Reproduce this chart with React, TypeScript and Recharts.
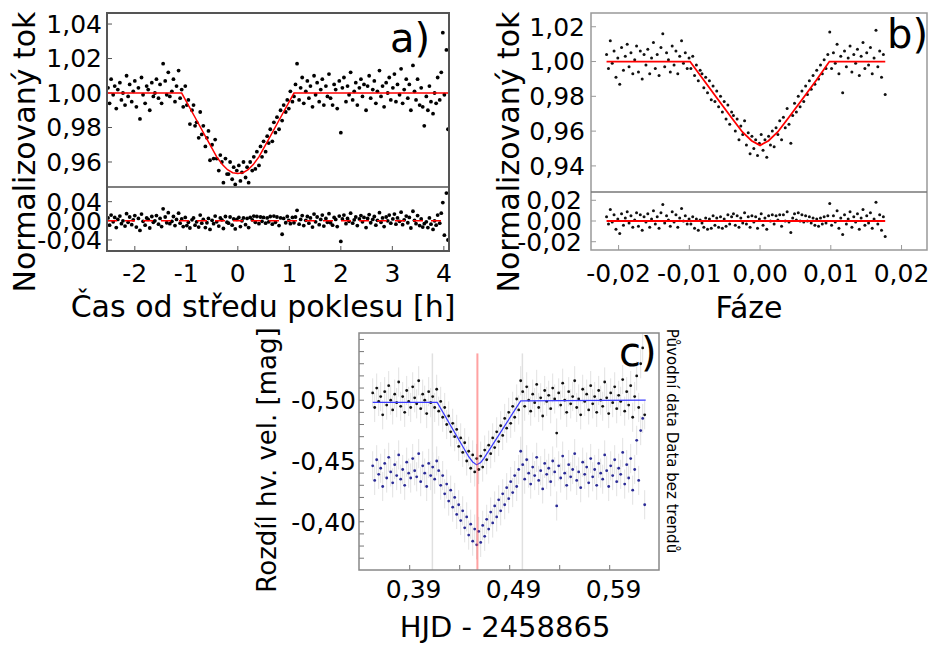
import { ErrorBar, Scatter, ScatterChart, XAxis, YAxis } from 'recharts'

// a) hours from mid-eclipse, normalised flux, residuals
const aHours = [
  -2.52, -2.49, -2.46, -2.42, -2.39, -2.36, -2.33, -2.29, -2.26, -2.23,
  -2.19, -2.16, -2.13, -2.1, -2.06, -2.03, -2.0, -1.97, -1.93, -1.9,
  -1.87, -1.84, -1.8, -1.77, -1.74, -1.71, -1.67, -1.64, -1.61, -1.58,
  -1.54, -1.51, -1.48, -1.45, -1.41, -1.38, -1.35, -1.32, -1.28, -1.25,
  -1.22, -1.19, -1.15, -1.12,
  -1.09, -1.06, -1.02, -0.99, -0.96, -0.93, -0.89, -0.86, -0.83, -0.8,
  -0.76, -0.73, -0.7, -0.67, -0.63, -0.6, -0.57, -0.54, -0.5, -0.47,
  -0.44, -0.41, -0.37, -0.34, -0.31, -0.28, -0.24, -0.21, -0.18, -0.15,
  -0.11, -0.08, -0.05, -0.02, 0.02, 0.05, 0.08, 0.11, 0.15, 0.18,
  0.21, 0.24, 0.28, 0.31, 0.34, 0.37, 0.41, 0.44, 0.47, 0.5,
  0.54, 0.57, 0.6, 0.63, 0.67, 0.7, 0.73, 0.76, 0.8, 0.83,
  0.86, 0.89, 0.93, 0.96, 0.99, 1.02, 1.06,
  1.09, 1.12, 1.15, 1.19, 1.22, 1.25, 1.28, 1.32, 1.35, 1.38,
  1.41, 1.45, 1.48, 1.51, 1.54, 1.58, 1.61, 1.64, 1.67, 1.71,
  1.74, 1.77, 1.8, 1.84, 1.87, 1.9, 1.93, 1.97, 2.0, 2.03,
  2.06, 2.1, 2.13, 2.16, 2.19, 2.23, 2.26, 2.29, 2.32, 2.36,
  2.39, 2.42, 2.45, 2.49, 2.52, 2.55, 2.58, 2.62, 2.65, 2.68,
  2.71, 2.75, 2.78, 2.81, 2.84, 2.88, 2.91, 2.94, 2.97, 3.01,
  3.04, 3.07, 3.1, 3.14, 3.17, 3.2, 3.23, 3.27, 3.3, 3.33,
  3.36, 3.4, 3.43, 3.46, 3.49, 3.53, 3.56, 3.59, 3.62, 3.66,
  3.69, 3.72, 3.75, 3.79, 3.82, 3.85, 3.88, 3.92, 3.95, 3.98,
  4.01, 4.05, 4.08,
]
const aFlux = [
  1.003, 0.994, 1.008, 0.999, 1.004, 0.991, 1.002, 1.006, 0.996, 1.0,
  0.993, 1.01, 0.998, 1.005, 0.995, 1.001, 1.007, 0.992, 1.003, 0.985,
  1.009, 0.999, 0.994, 1.004, 1.002, 0.99, 1.006, 0.998, 1.0, 1.008,
  0.997, 1.005, 0.994, 1.017, 1.007, 0.999, 1.012, 0.998, 1.001, 1.008,
  0.995, 1.004, 1.013, 0.997,
  1.002, 0.992, 1.004, 0.993, 0.996, 0.982, 0.99, 0.993, 0.981, 0.983,
  0.974, 0.989, 0.976, 0.981, 0.969, 0.974, 0.978, 0.961, 0.97, 0.962,
  0.973, 0.962, 0.955, 0.964, 0.96, 0.948, 0.962, 0.953, 0.953, 0.96,
  0.95, 0.957, 0.947, 0.955, 0.958, 0.949, 0.954, 0.96, 0.951, 0.957,
  0.948, 0.96, 0.955, 0.963, 0.956, 0.966, 0.958, 0.969, 0.963, 0.972,
  0.966, 0.975, 0.971, 0.979, 0.972, 0.983, 0.977, 0.986, 0.979, 0.99,
  0.984, 0.993, 0.989, 0.996, 0.991, 1.001, 0.995,
  0.998, 1.005, 1.017, 0.996, 1.003, 1.009, 0.994, 1.001, 1.007, 0.997,
  1.004, 0.992, 1.01, 0.999, 1.006, 0.995, 1.002, 1.008, 0.993, 1.004,
  0.998, 1.011, 0.997, 0.993, 1.005, 1.002, 0.991, 1.007, 0.977, 1.003,
  1.009, 0.995, 1.004, 0.999, 1.012, 0.996, 1.001, 1.006, 0.993, 1.003,
  1.008, 0.998, 1.005, 0.99, 1.004, 1.01, 0.997, 1.002, 1.007, 0.994,
  1.001, 1.013, 0.998, 1.004, 0.992, 1.006, 1.0, 1.009, 0.996, 1.003,
  1.011, 0.995, 1.005, 0.999, 1.014, 0.994, 1.002, 1.008, 0.997, 1.005,
  0.99, 1.016, 1.001, 0.996, 1.008, 0.993, 1.003, 0.992, 0.981, 0.998,
  0.99, 1.004, 0.995, 0.988, 1.0, 0.994, 1.009, 0.996, 1.012, 1.035,
  0.999, 1.025, 0.979,
]
const aResid = [
  0.006, -0.009, 0.012, -0.002, 0.007, -0.014, 0.003, 0.01, -0.006, 0,
  -0.011, 0.015, -0.003, 0.008, -0.008, 0.002, 0.011, -0.013, 0.005, -0.02,
  0.014, -0.001, -0.009, 0.006, 0.003, -0.015, 0.009, -0.003, 0, 0.011,
  -0.007, 0.005, -0.012, 0.025, 0.008, -0.004, 0.017, -0.006, -0.001, 0.009,
  -0.01, 0.003, 0.016, -0.005,
  0.004, -0.012, 0.007, -0.01, -0.003, -0.015, 0.002, 0.006, -0.009, -0.002,
  -0.013, 0.012, -0.005, 0.003, -0.014, -0.004, 0.005, -0.018, 0.001, -0.006,
  0.01, -0.002, -0.011, 0.006, 0.002, -0.016, 0.009, -0.003, -0.005, 0.008,
  -0.009, 0.004, -0.017, 0.003, 0.007, -0.012, 0, 0.006, -0.008, 0.005,
  -0.014, 0.007, 0.002, 0.01, -0.003, 0.009, -0.006, 0.008, -0.001, 0.007,
  -0.005, 0.006, -0.002, 0.009, -0.007, 0.01, -0.003, 0.008, -0.01, 0.006,
  -0.028, 0.005, -0.004, 0.009, 0.001, -0.006, 0.007,
  -0.004, 0.008, 0.022, -0.007, 0.003, 0.011, -0.01, 0.001, 0.009, -0.005,
  0.006, -0.013, 0.014, -0.002, 0.008, -0.008, 0.003, 0.012, -0.011, 0.005,
  -0.003, 0.015, -0.004, -0.009, 0.007, 0.003, -0.012, 0.01, -0.043, 0.004,
  0.012, -0.006, 0.005, -0.001, 0.016, -0.005, 0.002, 0.008, -0.01, 0.004,
  0.011, -0.002, 0.007, -0.014, 0.005, 0.013, -0.004, 0.003, 0.009, -0.009,
  0.001, 0.017, -0.003, 0.006, -0.012, 0.008, 0, 0.012, -0.005, 0.004,
  0.014, -0.007, 0.006, -0.001, 0.018, -0.008, 0.002, 0.01, -0.004, 0.007,
  -0.015, 0.02, 0.001, -0.006, 0.011, -0.01, 0.004, -0.013, -0.006, -0.002,
  -0.014, 0.006, -0.007, -0.018, 0, -0.009, 0.012, -0.005, 0.016, 0.038,
  -0.03, 0.058, -0.04,
]
const aModelHours = [-2.54, -1.09, -0.8, -0.6, -0.41, -0.3, -0.2, -0.1, 0, 0.1, 0.2, 0.3, 0.41, 0.6, 0.8, 1.09, 4.1]
const aModelFlux = [1, 1, 0.9842, 0.9733, 0.963, 0.9585, 0.9555, 0.9538, 0.9533, 0.9538, 0.9555, 0.9585, 0.963, 0.9733, 0.9842, 1, 1]

// b) phase-folded
const bPhase = [
  -0.0217, -0.02143, -0.02117, -0.0209, -0.02064, -0.02037, -0.02011, -0.01984, -0.01958, -0.01931,
  -0.01905, -0.01878, -0.01852, -0.01825, -0.01799, -0.01772, -0.01746, -0.01719, -0.01693, -0.01666,
  -0.0164, -0.01613, -0.01587, -0.0156, -0.01534, -0.01507, -0.01481, -0.01454, -0.01428, -0.01401,
  -0.01375, -0.01348, -0.01322, -0.01295, -0.01269, -0.01242, -0.01216, -0.01189, -0.01163, -0.01136,
  -0.0111, -0.01083, -0.01057, -0.0103, -0.01004,
  -0.00978, -0.00952, -0.00926, -0.009, -0.00873, -0.00847, -0.00821, -0.00795, -0.00769, -0.00743,
  -0.00716, -0.0069, -0.00664, -0.00638, -0.00612, -0.00586, -0.00559, -0.00533, -0.00507, -0.00481,
  -0.00455, -0.00429, -0.00402, -0.00376, -0.0035, -0.00324, -0.00298, -0.00272, -0.00245, -0.00219,
  -0.00193, -0.00167, -0.00141, -0.00115, -0.00088, -0.00062, -0.00036, -0.0001, 0.00016, 0.00042,
  0.00069, 0.00095, 0.00121, 0.00147, 0.00173, 0.00199, 0.00226, 0.00252, 0.00278, 0.00304,
  0.0033, 0.00356, 0.00383, 0.00409, 0.00435, 0.00461, 0.00487, 0.00513, 0.0054, 0.00566,
  0.00592, 0.00618, 0.00644, 0.0067, 0.00697, 0.00723, 0.00749, 0.00775, 0.00801, 0.00827,
  0.00854, 0.0088, 0.00906, 0.00932, 0.00958,
  0.00985, 0.01011, 0.01037, 0.01063, 0.01089, 0.01115, 0.01141, 0.01168, 0.01194, 0.0122,
  0.01246, 0.01272, 0.01298, 0.01325, 0.01351, 0.01377, 0.01403, 0.01429, 0.01455, 0.01482,
  0.01508, 0.01534, 0.0156, 0.01586, 0.01612, 0.01639, 0.01665, 0.01691, 0.01717, 0.01743,
  0.01769,
]
const bFlux = [
  1.004, 0.996, 1.012, 0.999, 1.006, 0.991, 1.002, 0.987, 1.008, 0.995,
  1.003, 1.01, 0.997, 1.005, 0.993, 1.001, 1.009, 0.994, 1.006, 0.99,
  1.004, 0.998, 1.007, 0.993, 1.002, 1.011, 0.996, 1.004, 0.992, 1.008,
  1.016, 0.997, 1.005, 1.001, 0.994, 1.009, 0.998, 1.006, 0.993, 1.003,
  1.012, 0.999, 1.005, 0.996, 1.002,
  0.996, 1.003, 0.992, 0.998, 0.989, 0.995, 0.993, 0.985, 0.991, 0.982,
  0.989, 0.978, 0.986, 0.977, 0.983, 0.974, 0.98, 0.971, 0.977, 0.967,
  0.975, 0.964, 0.971, 0.969, 0.96, 0.967, 0.955, 0.963, 0.958, 0.966,
  0.952, 0.959, 0.947, 0.957, 0.95, 0.955, 0.946, 0.953, 0.958, 0.949,
  0.955, 0.945, 0.957, 0.952, 0.96, 0.951, 0.962, 0.958, 0.966, 0.955,
  0.968, 0.962, 0.973, 0.964, 0.953, 0.969, 0.976, 0.971, 0.98, 0.974,
  0.983, 0.977, 0.986, 0.981, 0.989, 0.984, 0.992, 0.987, 0.995, 0.99,
  0.998, 0.993, 1.001, 0.996, 1.004,
  1.017, 0.996, 1.005, 0.999, 1.01, 0.993, 1.003, 0.982, 1.006, 0.997,
  1.002, 1.009, 0.994, 1.004, 0.999, 1.007, 0.992, 1.003, 1.011, 0.996,
  1.005, 0.998, 1.008, 0.993, 1.002, 1.018, 0.997, 1.006, 0.991, 1.004,
  0.981,
]
const bResid = [
  0.004, -0.003, 0.011, -0.001, 0.006, -0.008, 0.002, -0.012, 0.007, -0.004,
  0.003, 0.009, -0.002, 0.005, -0.006, 0.001, 0.008, -0.005, 0.006, -0.009,
  0.004, -0.001, 0.007, -0.006, 0.002, 0.01, -0.003, 0.004, -0.007, 0.008,
  0.016, -0.002, 0.005, 0.001, -0.005, 0.009, -0.001, 0.006, -0.006, 0.003,
  0.012, 0, 0.005, -0.003, 0.002,
  -0.003, 0.004, -0.007, 0.002, -0.009, 0.001, -0.002, -0.006, 0.003, -0.008,
  0.002, -0.007, 0.005, -0.004, 0.003, -0.006, 0.004, -0.007, 0.002, -0.005,
  0.006, -0.003, 0.004, 0.007, -0.004, 0.005, -0.006, 0.003, -0.002, 0.008,
  -0.003, 0.004, -0.006, 0.005, -0.001, 0.004, -0.007, 0.002, 0.007, -0.004,
  0.003, -0.008, 0.005, 0, 0.006, -0.003, 0.005, 0.001, 0.006, -0.005,
  0.006, 0, 0.009, -0.001, -0.011, 0.003, 0.007, 0.001, 0.008, 0,
  0.006, -0.001, 0.005, 0, 0.004, -0.002, 0.003, -0.004, 0.002, -0.005,
  0.003, -0.003, 0.004, -0.002, 0.005,
  0.017, -0.004, 0.005, -0.001, 0.01, -0.007, 0.003, -0.013, 0.006, -0.003,
  0.002, 0.009, -0.006, 0.004, -0.001, 0.007, -0.008, 0.003, 0.011, -0.004,
  0.005, -0.002, 0.008, -0.007, 0.002, 0.018, -0.003, 0.006, -0.009, 0.004,
  -0.015,
]
const bModelPhase = [-0.0217, -0.0099, -0.008, -0.006, -0.004, -0.0025, -0.0012, 0, 0.0012, 0.0025, 0.004, 0.006, 0.008, 0.0098, 0.0177]
const bModelFlux = [1, 1, 0.9895, 0.9785, 0.9675, 0.9595, 0.9545, 0.9518, 0.9545, 0.9595, 0.9675, 0.9785, 0.9895, 1, 1]

// c) HJD - 2458865, raw and detrended magnitude difference
const cTime = [
  0.353, 0.355, 0.357, 0.359, 0.361, 0.363, 0.365, 0.367, 0.369, 0.371,
  0.373, 0.375, 0.377, 0.379, 0.381, 0.383, 0.385, 0.387, 0.389, 0.391,
  0.393, 0.395, 0.397, 0.399, 0.401, 0.403, 0.405, 0.407, 0.409, 0.411,
  0.413, 0.415, 0.417, 0.419, 0.421, 0.423, 0.425, 0.427, 0.429, 0.431,
  0.433, 0.435, 0.437, 0.439, 0.441, 0.443, 0.445, 0.447, 0.449, 0.451,
  0.453, 0.455, 0.457, 0.459, 0.461, 0.463, 0.465, 0.467, 0.469, 0.471,
  0.473, 0.475, 0.477, 0.479, 0.481, 0.483, 0.485, 0.487, 0.489, 0.491,
  0.493, 0.495, 0.497, 0.499, 0.501, 0.503, 0.505, 0.507, 0.509, 0.511,
  0.513, 0.515, 0.517, 0.519, 0.521, 0.523, 0.525, 0.527, 0.529, 0.531,
  0.533, 0.535, 0.537, 0.539, 0.541, 0.543, 0.545, 0.547, 0.549, 0.551,
  0.553, 0.555, 0.557, 0.559, 0.561, 0.563, 0.565, 0.567, 0.569, 0.571,
  0.573, 0.575, 0.577, 0.579, 0.581, 0.583, 0.585, 0.587, 0.589, 0.591,
  0.593, 0.595, 0.597, 0.599, 0.601, 0.603, 0.605, 0.607, 0.609, 0.611,
  0.613, 0.615, 0.617, 0.619, 0.621, 0.623, 0.625,
]
const cRaw = [
  -0.506, -0.494, -0.51, -0.499, -0.503, -0.488, -0.507, -0.496, -0.512, -0.5,
  -0.492, -0.505, -0.498, -0.515, -0.495, -0.503, -0.49, -0.508, -0.499, -0.494,
  -0.511, -0.502, -0.497, -0.516, -0.493, -0.505, -0.5, -0.489, -0.507, -0.498,
  -0.503, -0.494, -0.509,
  -0.491, -0.499, -0.486, -0.494, -0.48, -0.487, -0.474, -0.481, -0.47, -0.476,
  -0.462, -0.469, -0.457, -0.465, -0.45, -0.458, -0.444, -0.455, -0.441, -0.452,
  -0.443, -0.454, -0.445, -0.459, -0.451, -0.463, -0.456, -0.469, -0.461, -0.474,
  -0.466, -0.479, -0.471, -0.485, -0.477, -0.49, -0.481, -0.495, -0.486, -0.501,
  -0.492, -0.516,
  -0.507, -0.495, -0.511, -0.5, -0.491, -0.505, -0.498, -0.513, -0.494, -0.502,
  -0.487, -0.508, -0.499, -0.504, -0.493, -0.51, -0.501, -0.473, -0.506, -0.496,
  -0.514, -0.5, -0.49, -0.507, -0.497, -0.503, -0.516, -0.494, -0.501, -0.488,
  -0.509, -0.499, -0.505, -0.492, -0.512, -0.497, -0.503, -0.49, -0.508, -0.5,
  -0.495, -0.515, -0.502, -0.489, -0.506, -0.498, -0.511, -0.493, -0.504, -0.499,
  -0.517, -0.491, -0.507, -0.496, -0.512, -0.486, -0.503, -0.52, -0.494, -0.53,
  -0.543, -0.488,
]
const cDetrended = [
  -0.446, -0.434, -0.451, -0.439, -0.444, -0.429, -0.448, -0.436, -0.453, -0.441,
  -0.432, -0.447, -0.438, -0.455, -0.435, -0.443, -0.43, -0.449, -0.44, -0.436,
  -0.452, -0.442, -0.437, -0.456, -0.433, -0.446, -0.44, -0.429, -0.448, -0.438,
  -0.445, -0.435, -0.45,
  -0.442, -0.43, -0.438, -0.423, -0.431, -0.417, -0.426, -0.412, -0.42, -0.406,
  -0.414, -0.401, -0.409, -0.395, -0.404, -0.389, -0.398, -0.384, -0.394, -0.381,
  -0.392, -0.383, -0.397, -0.388, -0.402, -0.394, -0.408, -0.399, -0.413, -0.404,
  -0.418, -0.409, -0.423, -0.414, -0.428, -0.419, -0.433, -0.424, -0.438, -0.429,
  -0.443, -0.458,
  -0.447, -0.435, -0.451, -0.44, -0.431, -0.445, -0.438, -0.453, -0.434, -0.442,
  -0.427, -0.448, -0.439, -0.444, -0.433, -0.45, -0.441, -0.413, -0.446, -0.436,
  -0.454, -0.44, -0.43, -0.447, -0.437, -0.443, -0.456, -0.434, -0.441, -0.428,
  -0.449, -0.439, -0.445, -0.432, -0.452, -0.437, -0.443, -0.43, -0.448, -0.44,
  -0.435, -0.455, -0.442, -0.429, -0.446, -0.438, -0.451, -0.433, -0.444, -0.439,
  -0.457, -0.431, -0.447, -0.436, -0.452, -0.426, -0.443, -0.467, -0.434, -0.475,
  -0.485, -0.414,
]
const cErr = 0.012
const cModelTime = [0.353, 0.4175, 0.449, 0.453, 0.457, 0.461, 0.464, 0.501, 0.626]
const cModelMag = [-0.4982, -0.4982, -0.4535, -0.4492, -0.4468, -0.4488, -0.452, -0.4995, -0.5]
const cContacts = [0.4127, 0.5027]
const cMid = 0.4577
const cMarkTop = -0.5385

// ticks
const aHourTicks = [-2, -1, 0, 1, 2, 3, 4]
const aFluxTicks = [0.96, 0.98, 1, 1.02, 1.04]
const aResidTicks = [-0.04, 0, 0.04]
const bPhaseTicks = [-0.02, -0.01, 0, 0.01, 0.02]
const bFluxTicks = [0.94, 0.96, 0.98, 1, 1.02]
const bResidTicks = [-0.02, 0, 0.02]
const cTimeTicks = [0.39, 0.44, 0.49, 0.54, 0.59]
const cTimeLabels = [0.39, 0.49, 0.59]
const cMagTicks = [-0.55, -0.54, -0.53, -0.52, -0.51, -0.5, -0.49, -0.48, -0.47, -0.46, -0.45, -0.44, -0.43, -0.42, -0.41, -0.4, -0.39, -0.38, -0.37]
const cMagLabels = [-0.5, -0.45, -0.4]

const A_X: [number, number] = [-2.54, 4.1]
const B_X: [number, number] = [-0.0239, 0.0236]
const C_X: [number, number] = [0.3393, 0.6393]
const C_Y: [number, number] = [-0.5553, -0.3603]

const comma = (v: number, d: number) => v.toFixed(d).replace('.', ',')
const only = (list: number[], d: number) => (v: number) =>
  list.some((l) => Math.abs(l - v) < 1e-9) ? comma(v, d) : ''

const pts = (xs: number[], ys: number[]) => xs.map((x, i) => ({ x, y: ys[i] }))

const aPoints = pts(aHours, aFlux)
const aResPoints = pts(aHours, aResid)
const aModel = pts(aModelHours, aModelFlux)
const aZero = [
  { x: A_X[0], y: 0 },
  { x: A_X[1], y: 0 },
]
const bPoints = pts(bPhase, bFlux)
const bResPoints = pts(bPhase, bResid)
const bModel = pts(bModelPhase, bModelFlux)
const bZero = [
  { x: bPhase[0], y: 0 },
  { x: bPhase[bPhase.length - 1], y: 0 },
]
const cRawPoints = cTime.map((x, i) => ({ x, y: cRaw[i], err: cErr }))
const cDetPoints = cTime.map((x, i) => ({ x, y: cDetrended[i], err: cErr }))
const cModel = pts(cModelTime, cModelMag)
const vline = (t: number) => [
  { x: t, y: cMarkTop },
  { x: t, y: C_Y[1] },
]

const dot = (r: number, fill: string) => (p: any) => <circle cx={p.cx} cy={p.cy} r={r} fill={fill} />
const noDot = () => <g />

const TICK = { fontSize: 25, fill: '#000' }
const TICK_LINE = { stroke: '#555' }

export default function App() {
  return (
    <div
      style={{
        position: 'absolute',
        left: 0,
        top: 0,
        width: 934,
        height: 646,
        background: '#fff',
        fontFamily: '"DejaVu Sans", sans-serif',
      }}
    >
      {/* a) top */}
      <div style={{ position: 'absolute', left: 0, top: 0 }}>
        <ScatterChart width={460} height={200} margin={{ top: 13, right: 11, bottom: 13, left: 0 }}>
          <XAxis type="number" dataKey="x" domain={A_X} allowDataOverflow hide />
          <YAxis
            type="number"
            dataKey="y"
            domain={[0.9455, 1.0464]}
            allowDataOverflow
            ticks={aFluxTicks}
            interval={0}
            width={107}
            axisLine={false}
            tickSize={-5}
            tickMargin={10}
            tickLine={TICK_LINE}
            tick={TICK}
            tickFormatter={(v: number) => comma(v, 2)}
          />
          <Scatter data={aPoints} shape={dot(1.9, '#000')} isAnimationActive={false} />
          <Scatter data={aModel} shape={noDot} line={{ stroke: '#ff0000', strokeWidth: 1.5 }} isAnimationActive={false} />
        </ScatterChart>
      </div>
      {/* a) residuals */}
      <div style={{ position: 'absolute', left: 0, top: 180 }}>
        <ScatterChart width={460} height={115} margin={{ top: 7, right: 11, bottom: 0, left: 0 }}>
          <XAxis
            type="number"
            dataKey="x"
            domain={A_X}
            allowDataOverflow
            ticks={aHourTicks}
            interval={0}
            height={44}
            axisLine={false}
            tickSize={-5}
            tickMargin={18}
            tickLine={TICK_LINE}
            tick={TICK}
          />
          <YAxis
            type="number"
            dataKey="y"
            domain={[-0.063, 0.0706]}
            allowDataOverflow
            ticks={aResidTicks}
            interval={0}
            width={107}
            axisLine={false}
            tickSize={-5}
            tickMargin={10}
            tickLine={TICK_LINE}
            tick={TICK}
            tickFormatter={(v: number) => comma(v, 2)}
          />
          <Scatter data={aResPoints} shape={dot(1.9, '#000')} isAnimationActive={false} />
          <Scatter
            data={aZero}
            shape={noDot}
            line={{ stroke: '#ff0000', strokeWidth: 1.5, strokeDasharray: '10 8' }}
            isAnimationActive={false}
          />
        </ScatterChart>
      </div>

      {/* b) top */}
      <div style={{ position: 'absolute', left: 470, top: 0 }}>
        <ScatterChart width={464} height={200} margin={{ top: 13, right: 7, bottom: 8, left: 0 }}>
          <XAxis type="number" dataKey="x" domain={B_X} allowDataOverflow hide />
          <YAxis
            type="number"
            dataKey="y"
            domain={[0.925, 1.0279]}
            allowDataOverflow
            ticks={bFluxTicks}
            interval={0}
            width={121}
            axisLine={false}
            tickSize={-5}
            tickMargin={11}
            tickLine={{ stroke: '#999' }}
            tick={TICK}
            tickFormatter={(v: number) => comma(v, 2)}
          />
          <Scatter data={bPoints} shape={dot(1.5, '#111')} isAnimationActive={false} />
          <Scatter data={bModel} shape={noDot} line={{ stroke: '#ff0000', strokeWidth: 1.8 }} isAnimationActive={false} />
        </ScatterChart>
      </div>
      {/* b) residuals */}
      <div style={{ position: 'absolute', left: 470, top: 185 }}>
        <ScatterChart width={464} height={115} margin={{ top: 7, right: 7, bottom: 0, left: 0 }}>
          <XAxis
            type="number"
            dataKey="x"
            domain={B_X}
            allowDataOverflow
            ticks={bPhaseTicks}
            interval={0}
            height={50}
            axisLine={false}
            tickSize={-5}
            tickMargin={19}
            tickLine={{ stroke: '#999' }}
            tick={TICK}
            tickFormatter={(v: number) => comma(v, 2)}
          />
          <YAxis
            type="number"
            dataKey="y"
            domain={[-0.028, 0.028]}
            allowDataOverflow
            ticks={bResidTicks}
            interval={0}
            width={121}
            axisLine={false}
            tickSize={-5}
            tickMargin={14}
            tickLine={{ stroke: '#999' }}
            tick={TICK}
            tickFormatter={(v: number) => comma(v, 2)}
          />
          <Scatter data={bResPoints} shape={dot(1.5, '#111')} isAnimationActive={false} />
          <Scatter data={bZero} shape={noDot} line={{ stroke: '#ff0000', strokeWidth: 2 }} isAnimationActive={false} />
        </ScatterChart>
      </div>

      {/* c) */}
      <div style={{ position: 'absolute', left: 250, top: 325 }}>
        <ScatterChart width={420} height={290} margin={{ top: 8, right: 10, bottom: 0, left: 0 }}>
          <XAxis
            type="number"
            dataKey="x"
            domain={C_X}
            allowDataOverflow
            ticks={cTimeTicks}
            interval={0}
            height={45}
            axisLine={false}
            tickSize={-5}
            tickMargin={15}
            tickLine={{ stroke: '#777' }}
            tick={{ ...TICK, dx: 4 }}
            tickFormatter={only(cTimeLabels, 2)}
          />
          <YAxis
            type="number"
            dataKey="y"
            domain={C_Y}
            reversed
            allowDataOverflow
            ticks={cMagTicks}
            interval={0}
            width={109}
            axisLine={false}
            tickSize={-5}
            tickMargin={8}
            tickLine={{ stroke: '#777' }}
            tick={TICK}
            tickFormatter={only(cMagLabels, 2)}
          />
          <YAxis
            yAxisId="r"
            orientation="right"
            type="number"
            domain={C_Y}
            reversed
            allowDataOverflow
            ticks={cMagTicks}
            interval={0}
            width={1}
            axisLine={false}
            tickSize={-5}
            tickLine={{ stroke: '#777' }}
            tick={false}
          />
          {cContacts.map((t) => (
            <Scatter key={t} data={vline(t)} shape={noDot} line={{ stroke: '#e0e0e0', strokeWidth: 1.5 }} isAnimationActive={false} />
          ))}
          <Scatter data={cRawPoints} shape={dot(1.4, '#111')} isAnimationActive={false}>
            <ErrorBar dataKey="err" direction="y" width={0} stroke="#e2e2e2" strokeWidth={1} />
          </Scatter>
          <Scatter data={cDetPoints} shape={dot(1.4, '#2a2a96')} isAnimationActive={false}>
            <ErrorBar dataKey="err" direction="y" width={0} stroke="#e2e2e2" strokeWidth={1} />
          </Scatter>
          <Scatter data={cModel} shape={noDot} line={{ stroke: '#3a3aff', strokeWidth: 1.2 }} isAnimationActive={false} />
          <Scatter data={vline(cMid)} shape={noDot} line={{ stroke: 'rgba(255,70,70,0.5)', strokeWidth: 2 }} isAnimationActive={false} />
        </ScatterChart>
      </div>

      {/* frames and titles */}
      <svg width={934} height={646} style={{ position: 'absolute', left: 0, top: 0, pointerEvents: 'none' }}>
        <rect x={107} y={13} width={342} height={238} fill="none" stroke="#555" strokeWidth={2} />
        <line x1={107} y1={187} x2={449} y2={187} stroke="#555" strokeWidth={1.5} />
        <rect x={591} y={13} width={336} height={237} fill="none" stroke="#999" strokeWidth={1.5} />
        <line x1={591} y1={192} x2={927} y2={192} stroke="#777" strokeWidth={1.5} />
        <rect x={359} y={333} width={300} height={237} fill="none" stroke="#888" strokeWidth={1.5} />

        <text x={24} y={152} transform="rotate(-90 24 152)" textAnchor="middle" dominantBaseline="central" fontSize={30}>
          Normalizovaný tok
        </text>
        <text x={508} y={152} transform="rotate(-90 508 152)" textAnchor="middle" dominantBaseline="central" fontSize={30}>
          Normalizovaný tok
        </text>
        <text x={263} y={317} textAnchor="middle" fontSize={30}>
          Čas od středu poklesu [h]
        </text>
        <text x={749} y={318} textAnchor="middle" fontSize={30}>
          Fáze
        </text>
        <text x={267} y={460} transform="rotate(-90 267 460)" textAnchor="middle" dominantBaseline="central" fontSize={26}>
          Rozdíl hv. vel. [mag]
        </text>
        <text x={505} y={637} textAnchor="middle" fontSize={29}>
          HJD - 2458865
        </text>
        <text x={672} y={441} transform="rotate(90 672 441)" textAnchor="middle" dominantBaseline="central" fontSize={15}>
          Původní data Data bez trendů
        </text>
        <text x={390} y={52} fontSize={40}>
          a)
        </text>
        <text x={887} y={48} fontSize={40}>
          b)
        </text>
        <text x={619} y={366} fontSize={40}>
          c)
        </text>
      </svg>
    </div>
  )
}
